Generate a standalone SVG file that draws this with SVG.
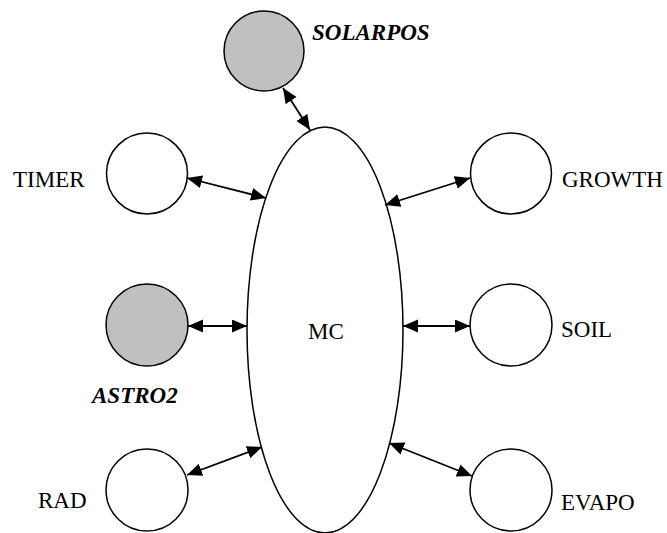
<svg xmlns="http://www.w3.org/2000/svg" width="667" height="533" viewBox="0 0 667 533">
<style>
.n{fill:#fff;stroke:#000;stroke-width:1.5}
.g{fill:#c0c0c0;stroke:#000;stroke-width:1.5}
.t{font-family:"Liberation Serif","Times New Roman",serif;font-size:23px;fill:#000}
.b{font-weight:bold;font-style:italic}
.c{stroke:#000;stroke-width:1.8;fill:none;marker-start:url(#a);marker-end:url(#a)}
</style>
<defs>
<marker id="a" markerUnits="userSpaceOnUse" markerWidth="16" markerHeight="14" refX="15" refY="6.5" orient="auto-start-reverse">
<path d="M0,0 L15,6.5 L0,13 Z" fill="#000"/>
</marker>
</defs>
<g id="MC"><ellipse class="n" cx="325" cy="330" rx="78" ry="203"/><text class="t" x="308" y="339">MC</text></g>
<g id="SOLARPOS"><circle class="g" cx="264" cy="51" r="40"/><text class="t b" x="312" y="40">SOLARPOS</text></g>
<g id="TIMER"><circle class="n" cx="147" cy="173.5" r="40.5"/><text class="t" x="13" y="187">TIMER</text></g>
<g id="GROWTH"><circle class="n" cx="511" cy="173.5" r="40.5"/><text class="t" x="562" y="187">GROWTH</text></g>
<g id="ASTRO2"><circle class="g" cx="147" cy="325" r="41"/><text class="t b" x="92" y="403">ASTRO2</text></g>
<g id="SOIL"><circle class="n" cx="511" cy="325" r="41"/><text class="t" x="561" y="337">SOIL</text></g>
<g id="RAD"><circle class="n" cx="147" cy="490" r="41"/><text class="t" x="38" y="508">RAD</text></g>
<g id="EVAPO"><circle class="n" cx="511" cy="490" r="41"/><text class="t" x="561" y="510">EVAPO</text></g>
<g id="connectors">
<line class="c" x1="283" y1="88" x2="310" y2="130"/>
<line class="c" x1="187" y1="178" x2="266" y2="198"/>
<line class="c" x1="385" y1="205" x2="470" y2="178"/>
<line class="c" x1="188" y1="326" x2="247" y2="326"/>
<line class="c" x1="403" y1="326" x2="470" y2="326"/>
<line class="c" x1="187" y1="475" x2="262" y2="447"/>
<line class="c" x1="389" y1="443" x2="472" y2="476"/>
</g>
</svg>
